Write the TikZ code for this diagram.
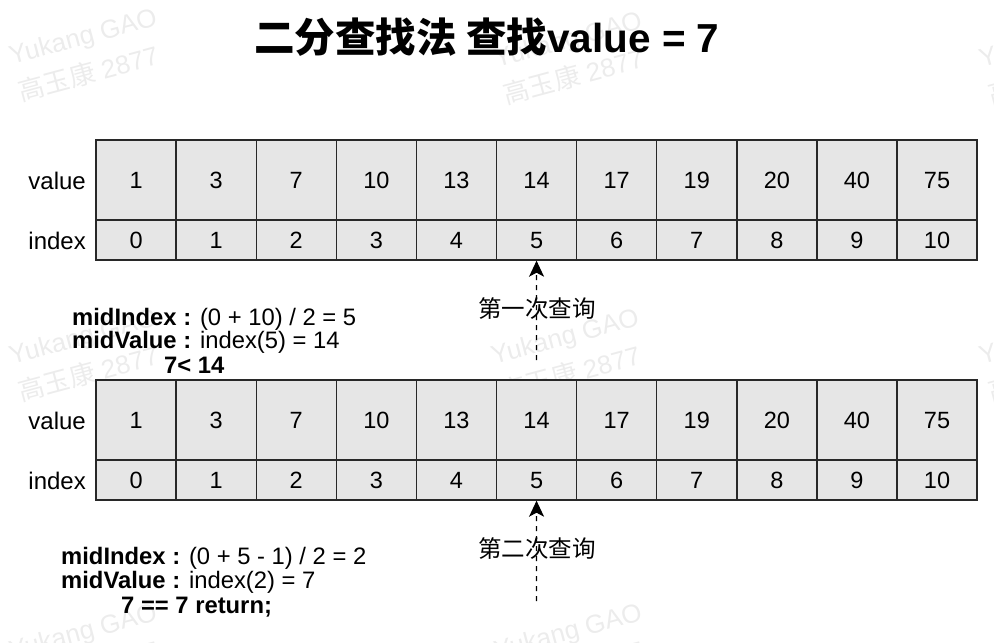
\documentclass[tikz,border=0pt]{standalone}
\usepackage{fontspec}
\setmainfont{Liberation Sans}
\newfontfamily\cjk{Noto Sans CJK SC}
\usetikzlibrary{arrows.meta}
\definecolor{cellfill}{RGB}{230,230,230}
\definecolor{cellline}{RGB}{40,40,40}
\definecolor{wmark}{RGB}{236,236,236}
\begin{document}
\begin{tikzpicture}[x=1pt,y=-1pt,
  cell/.style={draw=cellline, fill=cellfill, line width=1.4pt, minimum width=80.1pt, inner sep=0pt, text height=17pt, text depth=0pt, font=\fontsize{23.5}{26}\selectfont},
  vcell/.style={cell, minimum height=80pt},
  icell/.style={cell, minimum height=40pt},
  rowlabel/.style={anchor=east, inner sep=0pt, font=\fontsize{24}{26}\selectfont},
  note/.style={anchor=base west, inner sep=0pt, font=\fontsize{23.8}{26}\selectfont},
  query/.style={inner sep=0pt, font=\cjk\fontsize{23.5}{26}\selectfont},
  qarrow/.style={draw=black, line width=1.3pt, dash pattern=on 5pt off 5pt, -{Stealth[length=16pt,width=15pt,inset=4pt]}},
  wm/.style={text=wmark, rotate=15, align=left, inner sep=0pt, font=\fontsize{26}{38}\selectfont}
]
\useasboundingbox (0,0) rectangle (994,643);
% watermarks
\foreach \wx/\wy [count=\k] in {88/55, 573/58, 1058/58, 88/355, 570/355, 1058/355, 88/650, 573/650}
  \node[wm] (wm\k) at (\wx,\wy) {Yukang GAO\\{\cjk 高玉康} 2877};

% title
\node[anchor=base, inner sep=0pt, font=\fontsize{40.5}{46}\selectfont\bfseries] (title) at (487,52)
  {{\cjk\bfseries 二分查找法 查找}value = 7};

% table 1
\foreach \v [count=\i from 0] in {1,3,7,10,13,14,17,19,20,40,75}{
  \node[vcell] (a\i) at (136.05+80.1*\i,180) {\v};
  \node[icell] (ai\i) at (136.05+80.1*\i,240) {\i};
}
\node[rowlabel] (avl) at (86,181) {value};
\node[rowlabel] (ail) at (86,241) {index};

% table 2
\foreach \v [count=\i from 0] in {1,3,7,10,13,14,17,19,20,40,75}{
  \node[vcell] (b\i) at (136.05+80.1*\i,420) {\v};
  \node[icell] (bi\i) at (136.05+80.1*\i,480) {\i};
}
\node[rowlabel] (bvl) at (86,421) {value};
\node[rowlabel] (bil) at (86,481) {index};

% query arrows
\coordinate (s1) at (536.5,360);
\coordinate (s2) at (536.5,601);
\draw[qarrow] (s1) -- (ai5.south);
\draw[qarrow] (s2) -- (bi5.south);
\node[query] (q1) at (537,309) {第一次查询};
\node[query] (q2) at (537,549) {第二次查询};

% notes
\node[note] (n11) at (72,325) {\textbf{midIndex :} (0 + 10) / 2 = 5};
\node[note] (n12) at (72,348) {\textbf{midValue :} index(5) = 14};
\node[note] (n13) at (164,373) {\textbf{7< 14}};
\node[note] (n21) at (61,564) {\textbf{midIndex :} (0 + 5 - 1) / 2 = 2};
\node[note] (n22) at (61,588) {\textbf{midValue :} index(2) = 7};
\node[note] (n23) at (121,613) {\textbf{7 == 7 return;}};
\end{tikzpicture}
\end{document}
